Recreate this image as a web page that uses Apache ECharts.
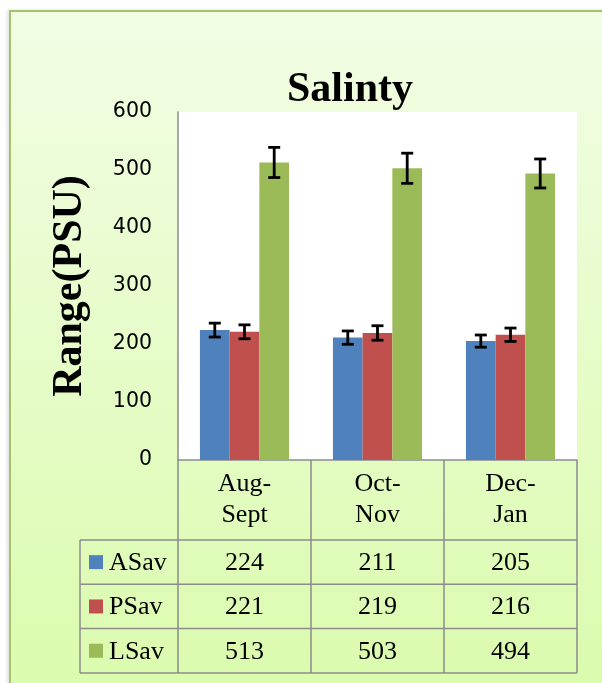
<!DOCTYPE html>
<html><head><meta charset="utf-8">
<script src="https://cdn.jsdelivr.net/npm/echarts@6/dist/echarts.min.js"></script>
<style>
html,body{margin:0;padding:0;background:#fff;}
#bg{position:absolute;left:9px;top:10px;width:620px;height:700px;
 background:linear-gradient(to bottom,#f2fde4 0%,#e6fcc8 50%,#dafbac 100%);
 border-left:2px solid #a3c468;border-top:2px solid #a3c468;
 box-shadow:-2px 0 3px rgba(0,0,0,0.12);}
#c{position:absolute;left:0;top:0;width:602px;height:683px;}
</style>
</head><body><div id="bg"></div><div id="c"></div>
<script>
const categories = ['Aug-\nSept', 'Oct-\nNov', 'Dec-\nJan'];
const seriesNames = ['ASav', 'PSav', 'LSav'];
const asav = [224, 211, 205];
const psav = [221, 219, 216];
const lsav = [513, 503, 494];
const asavErr = [12, 11.5, 10.5];
const psavErr = [12, 12.5, 11.5];
const lsavErr = [26, 26, 25];
const yMin = 0, yMax = 600, yStep = 100;

const colors = ['#4f81bd', '#c0504d', '#9bbb59'];
const values = [asav, psav, lsav];
const errs = [asavErr, psavErr, lsavErr];
const catGap = 0.33;
const lineColor = '#8c8c8c';
const serif = "'Liberation Serif','Times New Roman',serif";

const chart = echarts.init(document.getElementById('c'), null, {renderer: 'canvas'});

function errRender(si) {
  return function (params, api) {
    const x = api.value(0), v = api.value(1), e = api.value(2);
    const band = api.size([1, 0])[0];
    const bw = band * (1 - catGap) / 3;
    const off = (si - 1) * bw;
    const top = api.coord([x, v + e]);
    const bot = api.coord([x, v - e]);
    const cx = top[0] + off, hw = 6;
    const st = {stroke: '#000', lineWidth: 2.8};
    return {type: 'group', children: [
      {type: 'line', shape: {x1: cx, y1: top[1], x2: cx, y2: bot[1]}, style: st},
      {type: 'line', shape: {x1: cx - hw, y1: top[1], x2: cx + hw, y2: top[1]}, style: st},
      {type: 'line', shape: {x1: cx - hw, y1: bot[1], x2: cx + hw, y2: bot[1]}, style: st}
    ]};
  };
}

const series = [];
seriesNames.forEach((n, i) => {
  series.push({
    name: n, type: 'bar', data: values[i], barGap: 0, barCategoryGap: (catGap * 100) + '%',
    itemStyle: {color: colors[i]}, z: 2
  });
});
seriesNames.forEach((n, i) => {
  series.push({
    name: n + ' err', type: 'custom', renderItem: errRender(i),
    data: values[i].map((v, k) => [k, v, errs[i][k]]), z: 5, silent: true
  });
});

const gridL = 178, gridT = 112, gridR = 25, gridB = 223;

chart.setOption({
  animation: false,
  backgroundColor: 'transparent',
  title: {
    text: 'Salinty', left: 345, top: 64, textAlign: 'center',
    textStyle: {fontFamily: serif, fontWeight: 'bold', fontSize: 42, color: '#000'}
  },
  grid: {left: gridL, top: gridT, right: gridR, bottom: gridB, show: true,
    backgroundColor: '#fff', borderWidth: 0},
  xAxis: {
    type: 'category', data: categories,
    axisLine: {lineStyle: {color: lineColor, width: 1.5}},
    axisTick: {show: true, length: 213, lineStyle: {color: lineColor, width: 1.5}},
    axisLabel: {fontFamily: serif, fontSize: 26, color: '#000', lineHeight: 31, margin: 9}
  },
  yAxis: {
    type: 'value', min: yMin, max: yMax, interval: yStep,
    name: 'Range(PSU)', nameLocation: 'middle', nameGap: 87,
    nameTextStyle: {fontFamily: serif, fontWeight: 'bold', fontSize: 42, color: '#000'},
    axisLine: {show: true, lineStyle: {color: lineColor, width: 1.5}},
    axisTick: {show: false},
    splitLine: {show: false},
    axisLabel: {fontFamily: "'DejaVu Sans',sans-serif", fontSize: 20.5, color: '#000', margin: 26}
  },
  series: series
});

// data table below the plot
const c0 = chart.convertToPixel({xAxisIndex: 0}, 0);
const c1 = chart.convertToPixel({xAxisIndex: 0}, 1);
const band = c1 - c0;
const leftEdge = c0 - band / 2;
const rightEdge = leftEdge + band * categories.length;
const axisY = chart.convertToPixel({yAxisIndex: 0}, 0);
const headerH = 80, rowH = 44.3, legendLeft = 80;
const g = [];
const ls = {stroke: lineColor, lineWidth: 1.5};
for (let r = 0; r <= seriesNames.length; r++) {
  const y = axisY + headerH + r * rowH;
  g.push({type: 'line', shape: {x1: legendLeft, y1: y, x2: rightEdge, y2: y}, style: ls});
}
g.push({type: 'line', shape: {x1: legendLeft, y1: axisY + headerH, x2: legendLeft, y2: axisY + headerH + rowH * 3}, style: ls});
seriesNames.forEach((n, i) => {
  const cy = axisY + headerH + rowH * (i + 0.5);
  g.push({type: 'rect', shape: {x: 89, y: cy - 7, width: 14, height: 14}, style: {fill: colors[i]}});
  g.push({type: 'text', x: 109, y: cy + 1, style: {text: n, fontFamily: serif, fontSize: 26, fill: '#000', align: 'left', verticalAlign: 'middle'}});
  values[i].forEach((v, k) => {
    const cx = chart.convertToPixel({xAxisIndex: 0}, k);
    g.push({type: 'text', x: cx, y: cy + 1, style: {text: String(v), fontFamily: serif, fontSize: 26, fill: '#000', align: 'center', verticalAlign: 'middle'}});
  });
});
chart.setOption({graphic: g});
</script>
</body></html>
